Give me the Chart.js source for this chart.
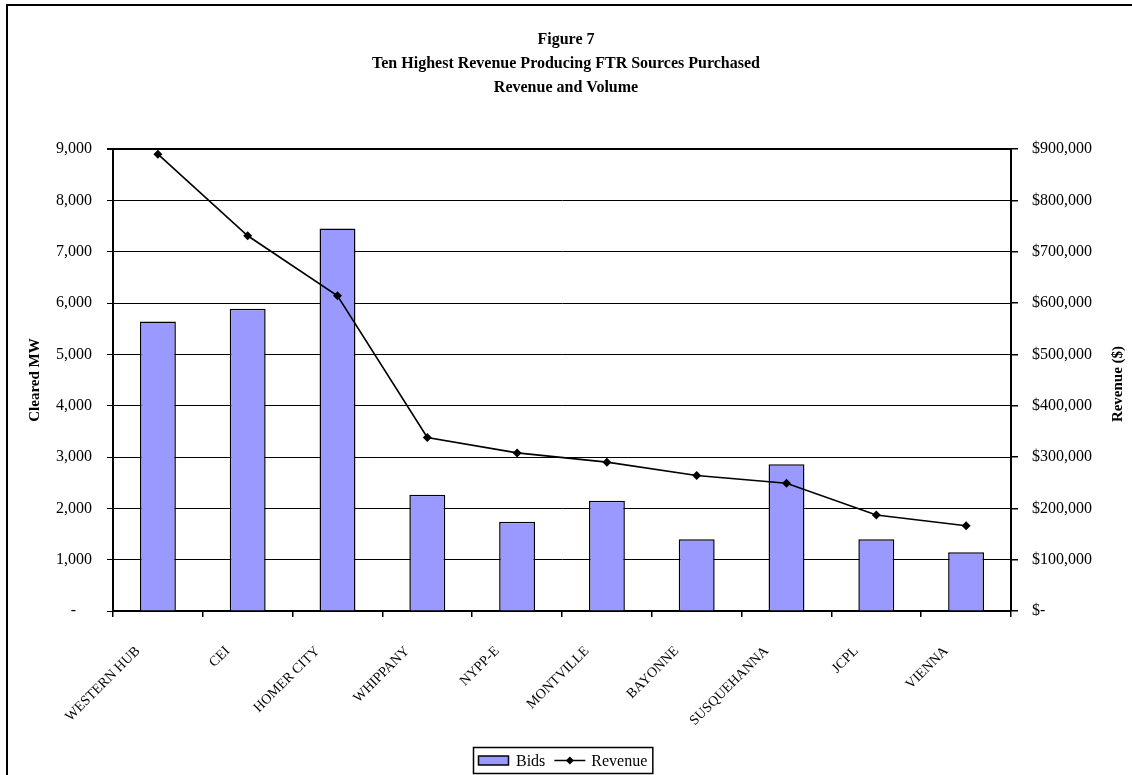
<!DOCTYPE html>
<html>
<head>
<meta charset="utf-8">
<title>Figure 7 - Ten Highest Revenue Producing FTR Sources Purchased</title>
<script src="https://cdn.jsdelivr.net/npm/chart.js@4.4.0/dist/chart.umd.min.js"></script>
<style>
  html, body { margin: 0; padding: 0; background: #fff; }
  canvas { display: block; }
</style>
</head>
<body>
<canvas id="chart" width="1132" height="775"></canvas>
<script>
// FTR sources, ranked by revenue
const sources = ['WESTERN HUB', 'CEI', 'HOMER CITY', 'WHIPPANY', 'NYPP-E',
                 'MONTVILLE', 'BAYONNE', 'SUSQUEHANNA', 'JCPL', 'VIENNA'];
// Cleared MW (bars, left axis)
const bids = [5640, 5890, 7450, 2265, 1740, 2150, 1400, 2860, 1400, 1145];
// Revenue in dollars (line, right axis)
const revenue = [890000, 731000, 614000, 338000, 308000, 290000, 264000, 249000, 187000, 166000];

const titleLines = ['Figure 7', 'Ten Highest Revenue Producing FTR Sources Purchased', 'Revenue and Volume'];
const leftAxisTitle = 'Cleared MW';
const rightAxisTitle = 'Revenue ($)';
const seriesNames = ['Bids', 'Revenue'];

const SERIF = '"Liberation Serif", "Times New Roman", serif';
const BAR_FILL = '#9999FF';

const fmtMW = v => v === 0 ? '-    ' : v.toLocaleString('en-US');
const fmtUSD = v => v === 0 ? '$-' : '$' + v.toLocaleString('en-US');

// Frame, right-hand axis title and boxed legend
const decor = {
  id: 'decor',
  beforeDraw(chart) {
    const ctx = chart.ctx;
    ctx.save();
    ctx.fillStyle = '#fff';
    ctx.fillRect(0, 0, chart.width, chart.height);
    ctx.restore();
  },
  afterDraw(chart) {
    const { ctx, chartArea } = chart;
    ctx.save();
    // outer frame
    ctx.strokeStyle = '#000';
    ctx.lineWidth = 2;
    ctx.strokeRect(7, 5, chart.width + 40, chart.height + 40);

    // right axis title, reading bottom to top
    const y1 = chart.scales.y1;
    ctx.save();
    ctx.font = 'bold 15px ' + SERIF;
    ctx.fillStyle = '#000';
    ctx.translate(y1.right - 14, (chartArea.top + chartArea.bottom) / 2 + 4);
    ctx.rotate(-Math.PI / 2);
    ctx.textAlign = 'center';
    ctx.textBaseline = 'middle';
    ctx.fillText(rightAxisTitle, 0, 0);
    ctx.restore();

    // legend: bar series first, then line series
    const ds = chart.data.datasets;
    const barDs = ds.find(d => d.type === 'bar');
    const lineDs = ds.find(d => d.type === 'line');
    ctx.font = '16px ' + SERIF;
    const wBids = ctx.measureText(barDs.label).width;
    const wRev = ctx.measureText(lineDs.label).width;
    const sw = 31, pad = 5;
    const total = pad + sw + 7 + wBids + 9 + sw + 6 + wRev + pad;
    const bx = Math.round(563 - total / 2), by = 747, bh = 26;
    ctx.lineWidth = 1.5;
    ctx.strokeStyle = '#000';
    ctx.strokeRect(bx + 0.5, by + 0.5, total, bh);
    const cy = by + bh / 2 + 0.5;
    let x = bx + pad;
    ctx.fillStyle = barDs.backgroundColor;
    ctx.fillRect(x, cy - 4.5, sw, 9);
    ctx.lineWidth = 1.5;
    ctx.strokeRect(x + 0.5, cy - 4.5, sw - 1, 9);
    x += sw + 7;
    ctx.fillStyle = '#000';
    ctx.textBaseline = 'middle';
    ctx.textAlign = 'left';
    ctx.fillText(barDs.label, x, cy + 1);
    x += wBids + 9;
    ctx.lineWidth = 1.5;
    ctx.beginPath();
    ctx.moveTo(x, cy);
    ctx.lineTo(x + sw, cy);
    ctx.stroke();
    const mx = x + sw / 2;
    ctx.beginPath();
    ctx.moveTo(mx, cy - 4);
    ctx.lineTo(mx + 4, cy);
    ctx.lineTo(mx, cy + 4);
    ctx.lineTo(mx - 4, cy);
    ctx.closePath();
    ctx.fill();
    x += sw + 6;
    ctx.fillText(lineDs.label, x, cy + 1);
    ctx.restore();
  }
};

new Chart(document.getElementById('chart'), {
  type: 'bar',
  data: {
    labels: sources,
    datasets: [
      {
        type: 'line',
        label: seriesNames[1],
        data: revenue,
        yAxisID: 'y1',
        order: 0,
        borderColor: '#000',
        borderWidth: 1.6,
        backgroundColor: '#000',
        pointStyle: 'rectRot',
        pointRadius: 4.5,
        pointBackgroundColor: '#000',
        pointBorderColor: '#000',
        pointBorderWidth: 0,
        tension: 0,
        fill: false
      },
      {
        type: 'bar',
        label: seriesNames[0],
        data: bids,
        yAxisID: 'y',
        order: 1,
        backgroundColor: BAR_FILL,
        borderColor: '#000',
        borderWidth: 1.5,
        barPercentage: 0.4,
        categoryPercentage: 1
      }
    ]
  },
  options: {
    responsive: false,
    animation: false,
    layout: { padding: 0 },
    plugins: {
      legend: { display: false },
      tooltip: { enabled: false },
      title: {
        display: true,
        text: titleLines,
        color: '#000',
        font: { family: SERIF, size: 16, weight: 'bold', lineHeight: 1.5 },
        padding: { top: 28, bottom: 49 }
      }
    },
    scales: {
      x: {
        grid: { offset: true, drawOnChartArea: false, drawTicks: true, tickLength: 6, color: '#000', lineWidth: 1.5 },
        border: { display: true, color: '#000', width: 2 },
        ticks: {
          autoSkip: false, minRotation: 45, maxRotation: 45,
          color: '#000', font: { family: SERIF, size: 14 },
          padding: 26, labelOffset: -20
        },
        afterFit(s) { s.height = 164; }
      },
      y: {
        position: 'left',
        min: 0, max: 9000,
        ticks: { stepSize: 1000, color: '#000', font: { family: SERIF, size: 16 }, padding: 15, callback: fmtMW },
        grid: {
          color: '#000',
          lineWidth: c => (c.tick && c.tick.value === 9000) ? 2 : 1,
          tickLength: 6
        },
        border: { display: true, color: '#000', width: 2 },
        title: {
          display: true, text: leftAxisTitle, color: '#000',
          font: { family: SERIF, size: 15, weight: 'bold' },
          padding: { top: 26, bottom: 0 }
        },
        afterFit(s) { s.width = 113; }
      },
      y1: {
        position: 'right',
        min: 0, max: 900000,
        ticks: { stepSize: 100000, color: '#000', font: { family: SERIF, size: 16 }, padding: 14, callback: fmtUSD },
        grid: { drawOnChartArea: false, drawTicks: true, tickLength: 7, color: '#000', lineWidth: 1.5 },
        border: { display: true, color: '#000', width: 2 },
        afterFit(s) { s.width = 121; }
      }
    }
  },
  plugins: [decor]
});
</script>
</body>
</html>
